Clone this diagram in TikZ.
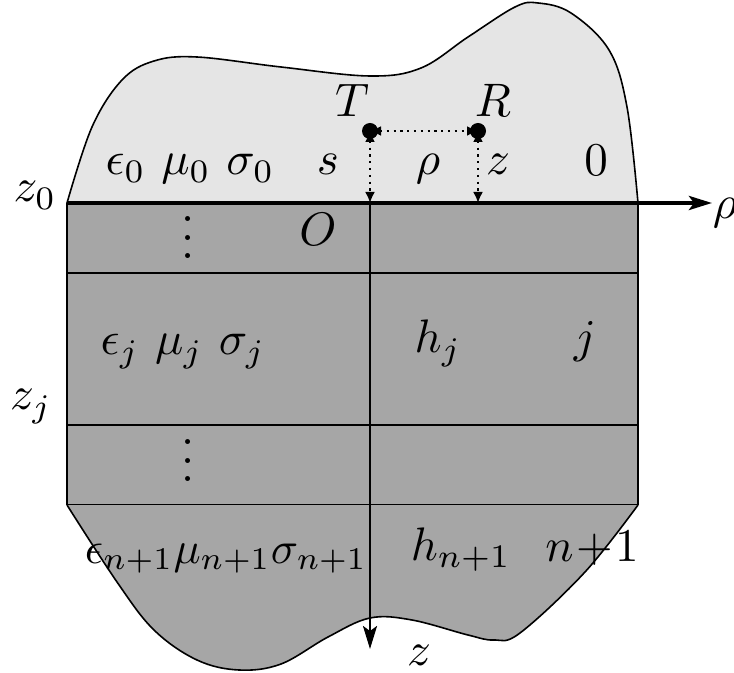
\documentclass[tikz,border=0pt]{standalone}
\usetikzlibrary{arrows.meta}
\begin{document}
\begin{tikzpicture}[x=0.5pt,y=-0.5pt,
  lbl/.style={anchor=base,inner sep=0pt,scale=2.35},
  dotnode/.style={circle,fill=black,inner sep=0pt,minimum size=8pt},
  dotarrow/.style={line width=1.1pt,dash pattern=on 1.1pt off 2.3pt,
    {Latex[length=5.5pt,width=5pt]}-{Latex[length=5.5pt,width=5pt]}},
  axisarrow/.style={-{Stealth[length=11.5pt,width=7pt,inset=2.5pt]}},
  blobline/.style={line width=0.8pt},
  toplight/.style={fill=black!10},
  layerfill/.style={fill=black!35}]
\useasboundingbox (0,0) rectangle (734,673);
% upper half-space
\fill[toplight] plot[smooth,tension=0.6] coordinates {(67,203) (92,127) (122,80) (154,61) (197,57) (281,67) (370,76) (421,68) (468,37) (515,7) (538,3) (571,13) (609,50) (627,107) (638,203)} -- cycle;
\draw[blobline] plot[smooth,tension=0.6] coordinates {(67,203) (92,127) (122,80) (154,61) (197,57) (281,67) (370,76) (421,68) (468,37) (515,7) (538,3) (571,13) (609,50) (627,107) (638,203)};
% layers
\fill[layerfill] (67,203) rectangle (638,505);
% bottom half-space
\fill[layerfill] plot[smooth,tension=0.6] coordinates {(67,505) (117,582) (154,630) (197,660) (239,670) (281,664) (328,637) (370,618) (412,620) (468,635) (494,640) (520,633) (585,572) (638,505)} -- cycle;
\draw[blobline] plot[smooth,tension=0.6] coordinates {(67,505) (117,582) (154,630) (197,660) (239,670) (281,664) (328,637) (370,618) (412,620) (468,635) (494,640) (520,633) (585,572) (638,505)};
\draw[line width=0.75pt] (67,203) -- (67,505) (638,203) -- (638,505);
\draw[line width=1.1pt] (67,273) -- (638,273);
\draw[line width=1.1pt] (67,425) -- (638,425);
\draw[line width=0.5pt] (67,505) -- (638,505);
% axes
\coordinate (left) at (67,203);
\coordinate (rhoend) at (712,203);
\coordinate (O) at (370,203);
\coordinate (zend) at (370,649);
\draw[line width=2pt,axisarrow] (left) -- (rhoend);
\draw[line width=1.2pt,axisarrow] (O) -- (zend);
% T and R
\coordinate (Tc) at (370,131);
\coordinate (Rc) at (478,131);
\coordinate (Rb) at (478,203);
\draw[dotarrow] (Tc) -- (Rc);
\draw[dotarrow] (Tc) -- (O);
\draw[dotarrow] (Rc) -- (Rb);
\node[dotnode] (T) at (Tc) {};
\node[dotnode] (R) at (Rc) {};
% labels
\node[lbl] (lT) at (352,117) {$T$};
\node[lbl] (lR) at (493,117) {$R$};
\node[lbl] (ls) at (328,175) {$s$};
\node[lbl] (lrho) at (428,175) {$\rho$};
\node[lbl] (lz) at (498,175) {$z$};
\node[lbl] (l0) at (596,176) {$0$};
\node[lbl] (lm0) at (190,175) {$\epsilon_0\ \mu_0\ \sigma_0$};
\node[lbl] (lz0) at (35,202) {$z_0$};
\node[lbl] (lrhoax) at (725,219) {$\rho$};
\node[lbl] (lO) at (318,246) {$O$};
\node[lbl] (vd1) at (188,259) {$\vdots$};
\node[lbl] (lmj) at (183,355) {$\epsilon_j\ \mu_j\ \sigma_j$};
\node[lbl] (lhj) at (438,353) {$h_j$};
\node[lbl] (lj) at (585,353) {$j$};
\node[lbl] (lzj) at (31,410) {$z_j$};
\node[lbl] (vd2) at (188,482) {$\vdots$};
\node[lbl,scale=0.96] (lmn) at (226,563) {$\epsilon_{n+1}\mu_{n+1}\sigma_{n+1}$};
\node[lbl] (lhn) at (461,560) {$h_{n+1}$};
\node[lbl] (ln) at (592,561) {$n\mkern1mu{+}\mkern1mu1$};
\node[lbl] (lzax) at (419,665) {$z$};
\end{tikzpicture}
\end{document}
